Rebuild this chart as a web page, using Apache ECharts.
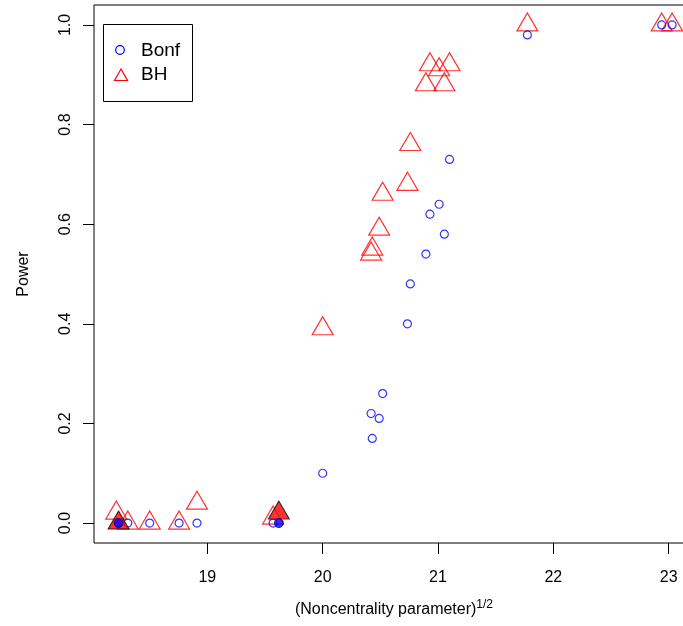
<!DOCTYPE html>
<html>
<head>
<meta charset="utf-8">
<script src="https://cdn.jsdelivr.net/npm/echarts@6/dist/echarts.min.js"></script>
<style>
html,body{margin:0;padding:0;background:#fff;width:683px;height:626px;overflow:hidden;}
#chart{width:710px;height:626px;}
</style>
</head>
<body>
<div id="chart"></div>
<script>
// ---- data ----
const bonfX = [18.31, 18.50, 18.755, 18.91, 19.57, 20.00, 20.42, 20.43, 20.49, 20.52, 20.735, 20.76, 20.895, 20.93, 21.01, 21.055, 21.10, 21.775, 22.94, 23.03];
const bonfY = [0, 0, 0, 0, 0, 0.10, 0.22, 0.17, 0.21, 0.26, 0.40, 0.48, 0.54, 0.62, 0.64, 0.58, 0.73, 0.98, 1.0, 1.0];
const bhX = [18.21, 18.31, 18.50, 18.755, 18.91, 19.57, 20.00, 20.42, 20.43, 20.49, 20.52, 20.735, 20.76, 20.895, 20.93, 21.01, 21.055, 21.10, 21.775, 22.94, 23.03];
const bhY = [0.02, 0, 0, 0, 0.04, 0.01, 0.39, 0.54, 0.55, 0.59, 0.66, 0.68, 0.76, 0.88, 0.92, 0.91, 0.88, 0.92, 1.0, 1.0, 1.0];
const markBhX = [18.23, 19.62];
const markBhY = [0, 0.02];
const markBonfX = [18.23, 19.62];
const markBonfY = [0, 0];
const xTicks = [19, 20, 21, 22, 23];
const yTicks = [0, 0.2, 0.4, 0.6, 0.8, 1.0];
const legendNames = ['Bonf', 'BH'];
const xTitle = '(Noncentrality parameter)';
const xTitleSup = '1/2';
const yTitle = 'Power';

const zip = (a, b) => a.map((v, i) => [v, b[i]]);
const FONT = '"Liberation Sans", Arial, Helvetica, sans-serif';

const chart = echarts.init(document.getElementById('chart'), null, {renderer: 'canvas'});
const triSize = [21, 18];
chart.setOption({
  animation: false,
  backgroundColor: '#fff',
  textStyle: {fontFamily: FONT},
  grid: {left: 94, top: 5, width: 600, height: 538, show: true, borderColor: '#000', borderWidth: 1, containLabel: false},
  xAxis: {
    type: 'value', min: 18.017, max: 23.22,
    axisLine: {show: false, onZero: false},
    splitLine: {show: false},
    axisTick: {show: true, inside: false, length: 11, customValues: xTicks, lineStyle: {color: '#000', width: 1}},
    axisLabel: {customValues: xTicks, margin: 27, color: '#000', fontSize: 16, fontFamily: FONT, formatter: v => String(v)},
    name: xTitle + '{sup|' + xTitleSup + '}',
    nameLocation: 'middle', nameGap: 56,
    nameTextStyle: {color: '#000', fontSize: 16, fontFamily: FONT,
      rich: {sup: {fontSize: 12, fontFamily: FONT, color: '#000', verticalAlign: 'bottom', padding: [0, 0, 9, 0]}}}
  },
  yAxis: {
    type: 'value', min: -0.04, max: 1.04,
    axisLine: {show: false, onZero: false},
    splitLine: {show: false},
    axisTick: {show: true, inside: false, length: 11, customValues: yTicks, lineStyle: {color: '#000', width: 1}},
    axisLabel: {customValues: yTicks, rotate: 90, margin: 20, color: '#000', fontSize: 16, fontFamily: FONT, formatter: v => v.toFixed(1)},
    name: yTitle, nameLocation: 'middle', nameGap: 62,
    nameTextStyle: {color: '#000', fontSize: 16, fontFamily: FONT}
  },
  series: [
    {name: 'BH', type: 'scatter', data: zip(bhX, bhY), symbol: 'triangle', symbolSize: triSize, symbolOffset: [0, -3],
      itemStyle: {color: 'rgba(0,0,0,0)', borderColor: '#ff0000', borderWidth: 1.2}, clip: false},
    {name: 'Bonf', type: 'scatter', data: zip(bonfX, bonfY), symbol: 'circle', symbolSize: 8,
      itemStyle: {color: 'rgba(0,0,0,0)', borderColor: '#0000ff', borderWidth: 1.2}, clip: false},
    {name: 'BH marked', type: 'scatter', data: zip(markBhX, markBhY), symbol: 'triangle', symbolSize: triSize, symbolOffset: [0, -3],
      itemStyle: {color: '#ff0000', borderColor: '#000', borderWidth: 1}, clip: false},
    {name: 'Bonf marked', type: 'scatter', data: zip(markBonfX, markBonfY), symbol: 'circle', symbolSize: 9,
      itemStyle: {color: '#0000ff', borderColor: '#00006a', borderWidth: 1}, clip: false}
  ],
  graphic: [
    {type: 'rect', shape: {x: 103.5, y: 24.5, width: 89, height: 77}, style: {fill: '#fff', stroke: '#000', lineWidth: 1}, z: 10},
    {type: 'circle', shape: {cx: 120, cy: 50, r: 4.3}, style: {fill: 'none', stroke: '#0000ff', lineWidth: 1.2}, z: 11},
    {type: 'polygon', shape: {points: [[121, 69], [114.5, 80.5], [127.5, 80.5]]}, style: {fill: 'none', stroke: '#ff0000', lineWidth: 1.2}, z: 11},
    {type: 'text', x: 141, y: 50.5, style: {text: legendNames[0], fill: '#000', font: '19px ' + FONT, textVerticalAlign: 'middle'}, z: 11},
    {type: 'text', x: 141, y: 75, style: {text: legendNames[1], fill: '#000', font: '19px ' + FONT, textVerticalAlign: 'middle'}, z: 11}
  ]
});
</script>
</body>
</html>
